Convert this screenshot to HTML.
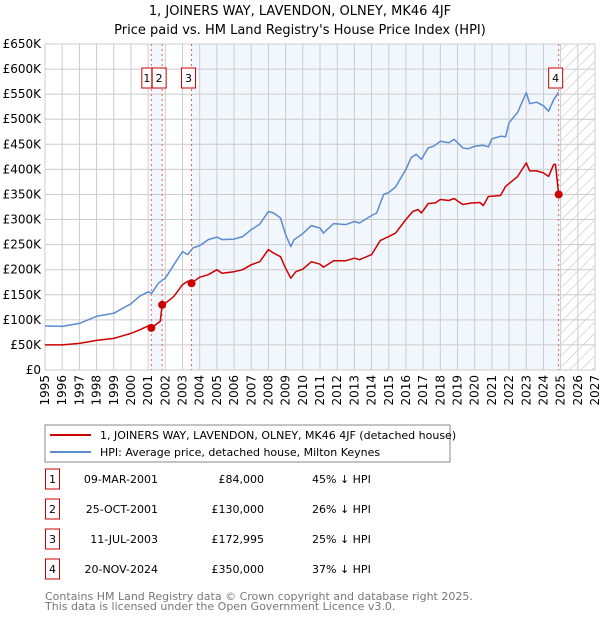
<!DOCTYPE html>
<html><head><meta charset="utf-8"><style>
body{margin:0;background:#fff;font-family:"Liberation Sans","DejaVu Sans",sans-serif;}
#wrap{position:relative;width:600px;height:620px;overflow:hidden}
</style></head><body>
<div id="wrap">
<svg id="chart" width="600" height="620" xmlns="http://www.w3.org/2000/svg" style="font-family:'DejaVu Sans','Liberation Sans',sans-serif">
<defs><pattern id="hatch" width="8" height="8" patternUnits="userSpaceOnUse" patternTransform="rotate(45)"><line x1="0" y1="0" x2="0" y2="8" stroke="#bbb" stroke-width="1"/></pattern></defs>
<text x="300" y="15" text-anchor="middle" font-size="13">1, JOINERS WAY, LAVENDON, OLNEY, MK46 4JF</text>
<text x="300" y="34" text-anchor="middle" font-size="13">Price paid vs. HM Land Registry's House Price Index (HPI)</text>
<g id="plot"></g>
<rect x="45" y="425" width="405" height="37" fill="#fff" stroke="#888"/>
<line x1="50" y1="435" x2="91" y2="435" stroke="#cc0000" stroke-width="2"/>
<text x="100" y="439" font-size="11">1, JOINERS WAY, LAVENDON, OLNEY, MK46 4JF (detached house)</text>
<line x1="50" y1="452" x2="91" y2="452" stroke="#5b8bd0" stroke-width="2"/>
<text x="100" y="456" font-size="11">HPI: Average price, detached house, Milton Keynes</text>
<g id="table"></g>
<text x="45" y="600" font-size="11" fill="#777">Contains HM Land Registry data © Crown copyright and database right 2025.</text>
<text x="45" y="610" font-size="11" fill="#777">This data is licensed under the Open Government Licence v3.0.</text>
</svg>
</div>
<script>
const hpiYears=[1995,1996,1997,1998,1999,2000,2000.5,2001,2001.2,2001.6,2002,2002.5,2003,2003.3,2003.6,2004,2004.5,2005,2005.3,2006,2006.5,2007,2007.5,2008,2008.3,2008.7,2009,2009.3,2009.5,2010,2010.5,2011,2011.2,2011.8,2012.5,2013,2013.3,2014,2014.3,2014.7,2015,2015.4,2016,2016.3,2016.6,2016.9,2017.3,2017.6,2018,2018.5,2018.8,2019.3,2019.6,2020,2020.5,2020.8,2021,2021.5,2021.8,2022,2022.5,2023,2023.2,2023.6,2024,2024.3,2024.6,2024.89];
const hpiValues=[88,87,93,107,113,132,147,156,153,173,183,210,236,230,243,248,260,265,260,261,266,280,291,316,313,303,270,246,260,272,288,283,273,292,290,296,293,308,313,350,354,365,400,423,430,420,443,446,456,453,460,443,441,446,448,445,461,466,465,493,514,553,531,534,527,516,539,554];
const priceYears=[1995,1996,1997,1998,1999,2000,2000.5,2001,2001.186,2001.7,2001.816,2002,2002.5,2003,2003.3,2003.525,2004,2004.5,2005,2005.3,2006,2006.5,2007,2007.5,2008,2008.3,2008.7,2009,2009.3,2009.6,2010,2010.5,2011,2011.2,2011.8,2012.5,2013,2013.3,2014,2014.5,2015,2015.4,2016,2016.4,2016.7,2016.9,2017.3,2017.7,2018,2018.5,2018.8,2019.3,2019.8,2020.3,2020.5,2020.8,2021.5,2021.8,2022.5,2023,2023.2,2023.6,2024,2024.3,2024.6,2024.7,2024.886];
const priceValues=[50,50,53,59,63,73,80,88,84,97,130,133,147,170,177,173,185,190,200,193,196,200,210,216,240,233,226,203,183,196,201,216,211,205,218,218,223,220,230,258,266,273,300,316,320,313,332,333,340,338,342,330,333,334,328,346,348,366,386,413,397,397,393,386,410,410,350];
const saleLabels=["1","2","3","4"];
const saleYears=[2001.186,2001.816,2003.525,2024.886];
const salePrices=[84,130,172.995,350];
const saleDates=["09-MAR-2001","25-OCT-2001","11-JUL-2003","20-NOV-2024"];
const salePriceText=["£84,000","£130,000","£172,995","£350,000"];
const saleHpiText=["45% ↓ HPI","26% ↓ HPI","25% ↓ HPI","37% ↓ HPI"];
const yTicks=[0,50,100,150,200,250,300,350,400,450,500,550,600,650];
const yTickLabels=["£0","£50K","£100K","£150K","£200K","£250K","£300K","£350K","£400K","£450K","£500K","£550K","£600K","£650K"];
const xTicks=[1995,1996,1997,1998,1999,2000,2001,2002,2003,2004,2005,2006,2007,2008,2009,2010,2011,2012,2013,2014,2015,2016,2017,2018,2019,2020,2021,2022,2023,2024,2025,2026,2027];

const NS="http://www.w3.org/2000/svg";
const X0=45,X1=595,Y0=370,Y1=44,XMIN=1995,XMAX=2027,YMAX=650;
const xs=v=>X0+(v-XMIN)/(XMAX-XMIN)*(X1-X0);
const ys=v=>Y0-v/YMAX*(Y0-Y1);
const plot=document.getElementById('plot');
function mk(tag,attrs,parent){const e=document.createElementNS(NS,tag);for(const k in attrs)e.setAttribute(k,attrs[k]);(parent||plot).appendChild(e);return e;}

let e;
e=mk('rect',{x:X0,y:Y1,width:X1-X0,height:Y0-Y1,fill:'#fff'});


e=mk('rect',{x:xs(saleYears[0]),y:Y1,width:xs(saleYears[1])-xs(saleYears[0]),height:Y0-Y1,fill:'#f2f6fd'});


e=mk('rect',{x:xs(saleYears[2]),y:Y1,width:xs(saleYears[3])-xs(saleYears[2]),height:Y0-Y1,fill:'#f2f6fd'});


e=mk('rect',{x:xs(2025),y:Y1,width:xs(XMAX)-xs(2025),height:Y0-Y1,fill:'url(#hatch)'});



yTicks.forEach((t,i)=>{
 e=mk('line',{x1:X0,x2:X1,y1:ys(t),y2:ys(t),stroke:'#cccccc','stroke-width':1});
 
 
 e=mk('text',{x:X0-4,y:ys(t)+4,'text-anchor':'end','font-size':12});
 e.textContent=yTickLabels[i];
 
 
});
xTicks.forEach(t=>{
 e=mk('line',{x1:xs(t),x2:xs(t),y1:Y1,y2:Y0,stroke:'#cccccc','stroke-width':1});
 
 
 e=mk('text',{x:0,y:0,'text-anchor':'end','font-size':12,transform:`translate(${xs(t)+4},${Y0+5}) rotate(-90)`});
 e.textContent=t;
 
 
});
e=mk('rect',{x:X0,y:Y1,width:X1-X0,height:Y0-Y1,fill:'none',stroke:'#cccccc'});



saleYears.forEach((s,i)=>{
 e=mk('line',{x1:xs(s),x2:xs(s),y1:Y1,y2:Y0,stroke:'#e06060','stroke-width':1,'stroke-dasharray':'2,3'});
 
 
});

function path(xa,va,color,name){
 let d=xa.map((x,i)=>(i?'L':'M')+xs(x).toFixed(1)+','+ys(va[i]).toFixed(1)).join('');
 e=mk('path',{d:d,fill:'none',stroke:color,'stroke-width':1.5,'stroke-linejoin':'round'});
 
 
}
path(hpiYears,hpiValues,'#5b8bd0','hpi-line');
path(priceYears,priceValues,'#cc0000','price-paid-line');

saleYears.forEach((s,i)=>{
 e=mk('circle',{cx:xs(s),cy:ys(salePrices[i]),r:4,fill:'#cc0000'});
 
 
 let cx=xs(s)-3; if(i===0) cx=xs(s)-4.5; if(i===1) cx=xs(s)-3;
 const w=i===0?10:14;
 e=mk('rect',{x:cx-w/2,y:68,width:w,height:20,fill:'#fff',stroke:'#cc0000'});
 
 
 e=mk('text',{x:cx,y:82,'text-anchor':'middle','font-size':11});
 e.textContent=saleLabels[i];
 
 
});

const tbl=document.getElementById('table');
saleLabels.forEach((l,i)=>{
 const y=483+i*30;
 e=mk('rect',{x:45.5,y:y-14,width:14,height:20,fill:'#fff',stroke:'#cc0000'},tbl);
 
 
 e=mk('text',{x:52.5,y:y,'text-anchor':'middle','font-size':11},tbl);
 e.textContent=l;
 
 
 e=mk('text',{x:158,y:y,'text-anchor':'end','font-size':11},tbl);
 e.textContent=saleDates[i];
 
 
 e=mk('text',{x:264,y:y,'text-anchor':'end','font-size':11},tbl);
 e.textContent=salePriceText[i];
 
 
 e=mk('text',{x:312,y:y,'font-size':11},tbl);
 e.textContent=saleHpiText[i];
 
 
});
</script>
</body></html>
